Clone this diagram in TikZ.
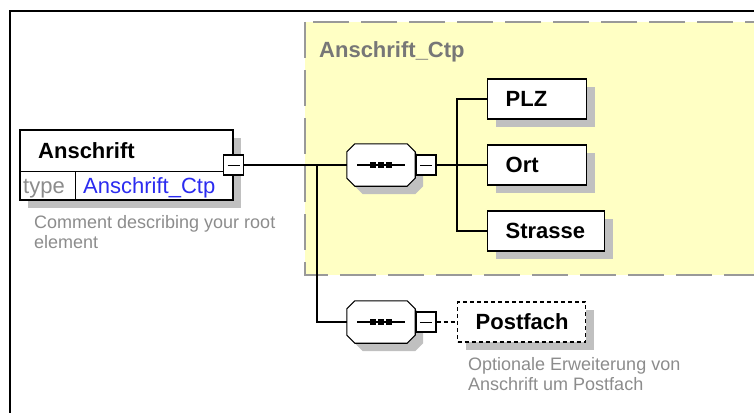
\documentclass[tikz,border=0pt]{standalone}
\usepackage{fontspec}
\setmainfont{Liberation Sans}
\usetikzlibrary{positioning,shadows}
\definecolor{xsdink}{HTML}{000000}
\definecolor{xsdtype}{HTML}{FFFFC4}
\definecolor{xsdframe}{HTML}{999999}
\definecolor{xsdshade}{HTML}{C0C0C0}
\definecolor{xsdnote}{HTML}{8C8C8C}
\definecolor{xsdlink}{HTML}{2B2BF0}
% outline of a sequence compositor, corners cut by 8pt
\newcommand{\seqoutline}[1]{([xshift=8pt]#1.north west) -- ([xshift=-8pt]#1.north east)
  -- ([yshift=-8pt]#1.north east) -- ([yshift=8pt]#1.south east)
  -- ([xshift=-8pt]#1.south east) -- ([xshift=8pt]#1.south west)
  -- ([yshift=8pt]#1.south west) -- ([yshift=-8pt]#1.north west) -- cycle}
\tikzset{
  every picture/.style={font=\fontsize{22}{26}\selectfont,text=xsdink},
  shade box/.style={drop shadow={shadow xshift=8pt,shadow yshift=-8pt,
    draw=none,fill=xsdshade,opacity=1}},
  element/.style={rectangle,draw=xsdink,fill=white,line width=1.3pt,shade box,
    minimum height=40pt,inner xsep=18pt,inner ysep=0pt,text width=#1,align=left,
    font=\fontsize{22}{26}\selectfont\bfseries},
  element/.default=63pt,
  optional/.style={element=92pt,dash pattern=on 4pt off 3pt},
  seqbox/.style={rectangle,minimum width=68pt,minimum height=42pt,inner sep=0pt},
  collapse/.style={rectangle,draw=xsdink,fill=white,line width=1.3pt,
    minimum size=20pt,inner sep=0pt,
    path picture={\draw[line width=1pt] ([xshift=4pt]path picture bounding box.west)
      -- ([xshift=-4pt]path picture bounding box.east);}},
  caption/.style={anchor=base west,inner sep=0pt},
  link/.style={draw=xsdink,line width=1.3pt},
  optlink/.style={link,dash pattern=on 4pt off 3pt},
  note/.style={anchor=north west,inner sep=0pt,text=xsdnote,
    font=\fontsize{18}{20}\selectfont,align=left},
}
\begin{document}
\begin{tikzpicture}[x=1pt,y=-1pt]
  \useasboundingbox (0,0) rectangle (754,412);
  \clip (0,0) rectangle (754,412);
  % window frame and the area of the complex type
  \draw[line width=2.3pt] (10,420) -- (10,11) -- (760,11);
  \draw[draw=xsdframe,fill=xsdtype,line width=2pt,dash pattern=on 36pt off 12pt]
    (305,22) rectangle (770,275);
  \node[caption,text=xsdnote!85!black,font=\fontsize{22}{26}\selectfont\bfseries]
    (ctplabel) at (319,58) {Anschrift\_Ctp};
  % root element with its type row
  \node[draw=xsdink,fill=white,line width=1.3pt,shade box,minimum width=213pt,
    minimum height=70pt,inner sep=0pt] (root) at (126.5,165) {};
  \draw[line width=1pt] ([yshift=-6pt]root.west) -- ([yshift=-6pt]root.east);
  \draw[line width=1pt] ([xshift=56pt,yshift=-6pt]root.west) -- ([xshift=56pt]root.south west);
  \node[caption,font=\fontsize{22}{26}\selectfont\bfseries] (roottitle) at (38,158) {Anschrift};
  \node[caption,text=xsdnote] (roottype) at (23,193) {type};
  \node[caption,text=xsdlink] (roottypename) at (83,193) {Anschrift\_Ctp};
  \node[collapse] (rootcol) at (root.east) {};
  \node[note] (rootnote) at (34,215) {Comment describing your root\\element};
  % sequence compositors
  \node[seqbox] (seqreq) at (381,165) {};
  \node[seqbox] (seqopt) at (381,322) {};
  \foreach \s in {seqreq,seqopt} {
    \fill[xsdshade,transform canvas={shift={(8pt,-8pt)}}] \seqoutline{\s};
    \filldraw[draw=xsdink,fill=white,line width=1.1pt] \seqoutline{\s};
    \draw[line width=1.1pt] ([xshift=-24pt]\s.center) -- ([xshift=24pt]\s.center);
    \foreach \dx in {-8,0,8}
      \fill ([shift={(\dx-3,-3)}]\s.center) rectangle ([shift={(\dx+3,3)}]\s.center);
  }
  \node[collapse,right=0pt of seqreq] (seqreqcol) {};
  \node[collapse,right=0pt of seqopt] (seqoptcol) {};
  % required children
  \node[element,anchor=west] (plz) at (487,99) {PLZ};
  \node[element,anchor=west] (ort) at (487,165) {Ort};
  \node[element=81pt,anchor=west] (strasse) at (487,231) {Strasse};
  \coordinate (rootfork) at (317,165);
  \coordinate (reqfork) at (457,165);
  \draw[link] (rootcol) -- (seqreq);
  \draw[link] (seqreqcol) -- (ort);
  \draw[link] (reqfork) |- (plz.west);
  \draw[link] (reqfork) |- (strasse.west);
  % optional child
  \node[optional,anchor=west] (postfach) at (457,322) {Postfach};
  \draw[link] (rootfork) |- (seqopt);
  \draw[optlink] (seqoptcol) -- (postfach);
  \node[note] (postfachnote) at (468,357) {Optionale Erweiterung von\\Anschrift um Postfach};
\end{tikzpicture}
\end{document}
